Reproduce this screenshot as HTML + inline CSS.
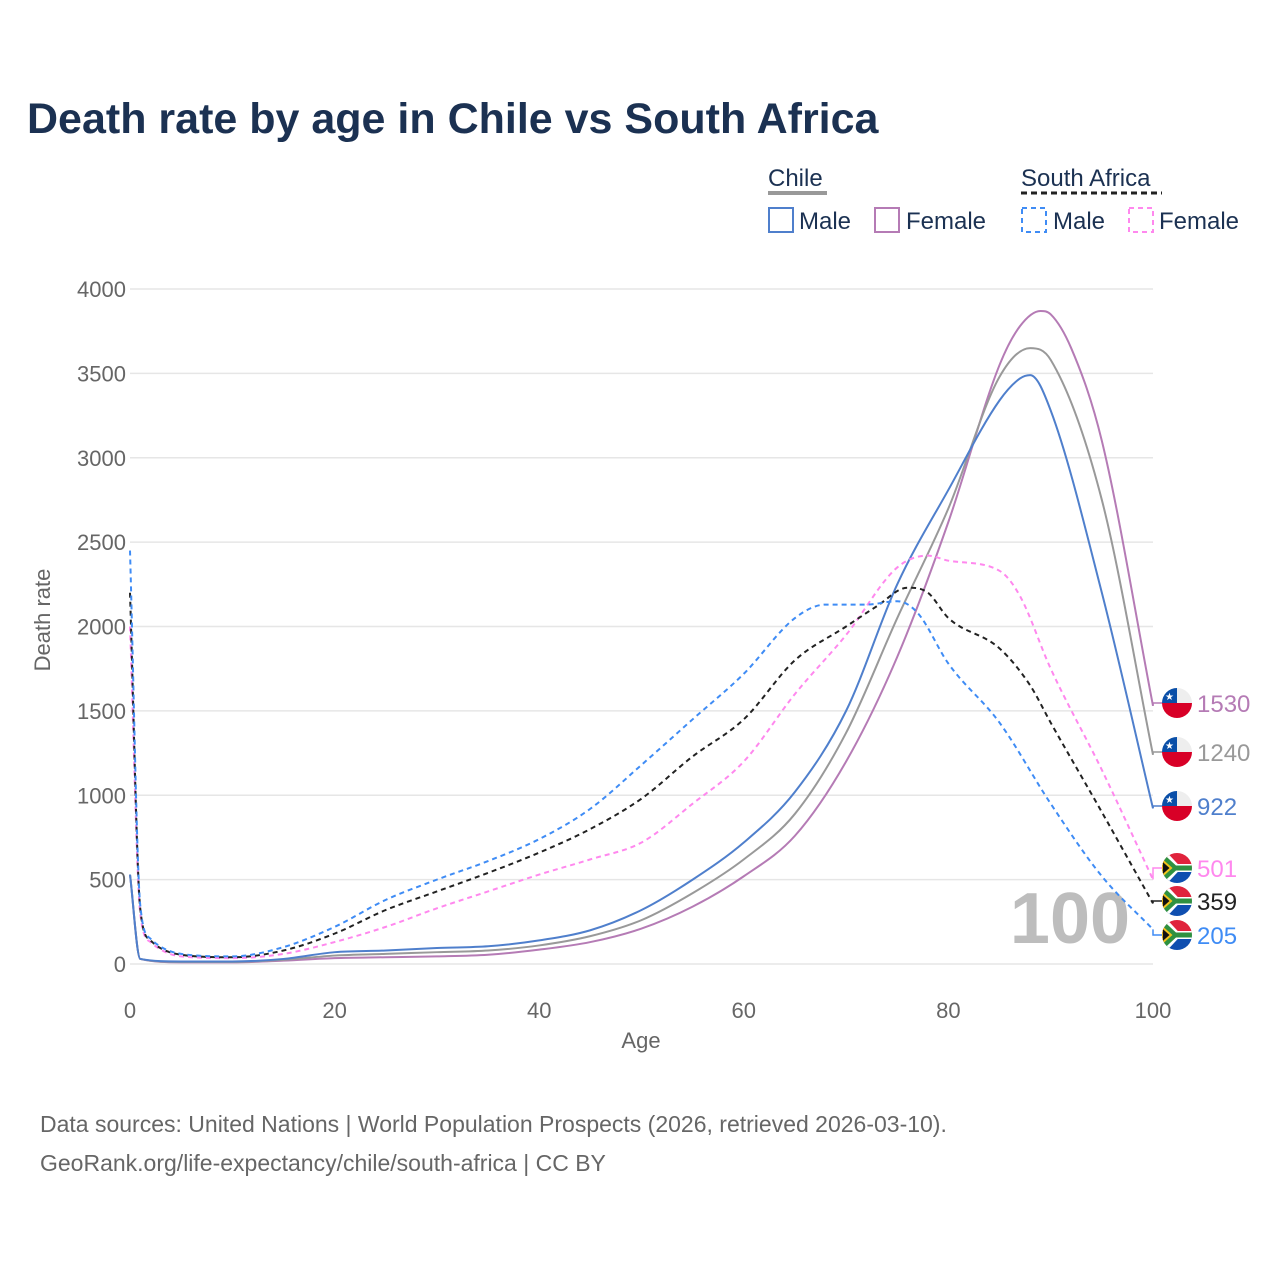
<!DOCTYPE html>
<html><head><meta charset="utf-8"><style>
body{margin:0;background:#fff;font-family:"Liberation Sans",sans-serif;}
svg text{font-family:"Liberation Sans",sans-serif;}
</style></head><body>
<svg id="c" width="1280" height="1280" viewBox="0 0 1280 1280" xmlns="http://www.w3.org/2000/svg">
<rect width="1280" height="1280" fill="#fff"/>
<text x="27" y="133" font-size="43" font-weight="bold" fill="#1b3152">Death rate by age in Chile vs South Africa</text>
<g>
 <text x="768" y="186" font-size="24" fill="#1b3152">Chile</text>
 <line x1="768" y1="193" x2="827" y2="193" stroke="#999" stroke-width="4"/>
 <rect x="769" y="208" width="24" height="24" fill="none" stroke="#4f7fcc" stroke-width="2"/>
 <text x="799" y="229" font-size="24" fill="#1b3152">Male</text>
 <rect x="875" y="208" width="24" height="24" fill="none" stroke="#b57bb5" stroke-width="2"/>
 <text x="906" y="229" font-size="24" fill="#1b3152">Female</text>
 <text x="1021" y="186" font-size="24" fill="#1b3152">South Africa</text>
 <line x1="1021" y1="193" x2="1162" y2="193" stroke="#222" stroke-width="3" stroke-dasharray="6,4"/>
 <rect x="1022" y="208" width="24" height="24" fill="none" stroke="#3f8cf5" stroke-width="2" stroke-dasharray="5,4"/>
 <text x="1053" y="229" font-size="24" fill="#1b3152">Male</text>
 <rect x="1129" y="208" width="24" height="24" fill="none" stroke="#ff88ee" stroke-width="2" stroke-dasharray="5,4"/>
 <text x="1159" y="229" font-size="24" fill="#1b3152">Female</text>
</g>
<g id="grid"></g>
<text x="1070" y="943" font-size="72" font-weight="bold" fill="#bdbdbd" text-anchor="middle">100</text>
<g id="lines"></g>
<g id="labels"></g>
<text x="641" y="1048" font-size="22" fill="#666" text-anchor="middle">Age</text>
<text transform="translate(50,620) rotate(-90)" font-size="22" fill="#666" text-anchor="middle">Death rate</text>
<text x="40" y="1132" font-size="23" fill="#666">Data sources: United Nations | World Population Prospects (2026, retrieved 2026-03-10).</text>
<text x="40" y="1171" font-size="23" fill="#666">GeoRank.org/life-expectancy/chile/south-africa | CC BY</text>
</svg>
<script>
const xTicks=[0,20,40,60,80,100];
const yTicks=[0,500,1000,1500,2000,2500,3000,3500,4000];
const chileMaleAges=[0,1,5,10,15,20,25,30,35,40,45,50,55,60,65,70,75,80,85,87,88,90,95,100];
const chileMaleVals=[530,30,15,15,30,70,80,95,105,140,200,320,500,720,1020,1500,2250,2810,3340,3470,3490,3280,2200,922];
const chileFemaleAges=[0,1,5,10,15,20,25,30,35,40,45,50,55,60,65,70,75,80,85,87,89,90,92,95,100];
const chileFemaleVals=[530,30,10,10,20,35,40,45,55,85,130,210,340,520,760,1200,1820,2620,3550,3780,3870,3850,3650,3100,1530];
const chileAllAges=[0,1,5,10,15,20,25,30,35,40,45,50,55,60,65,70,75,80,85,88,90,95,100];
const chileAllVals=[530,30,12,12,25,50,60,70,80,110,165,260,420,620,890,1370,2050,2700,3480,3650,3580,2750,1240];
const saMaleAges=[0,1,2,5,10,15,20,25,30,35,40,45,50,55,60,65,68,72,75,77,80,85,90,95,100];
const saMaleVals=[2450,350,150,60,45,100,220,380,500,610,740,920,1180,1450,1720,2050,2130,2130,2150,2080,1780,1430,950,520,205];
const saAllAges=[0,1,2,5,10,15,20,25,30,35,40,45,50,55,60,65,70,73,76,78,80,85,88,90,95,100];
const saAllVals=[2200,330,140,55,40,80,180,320,430,540,660,800,980,1230,1450,1800,2000,2120,2230,2200,2050,1870,1650,1430,900,359];
const saFemaleAges=[0,1,2,5,10,15,20,25,30,35,40,45,50,55,60,65,70,75,78,80,85,87,90,95,100];
const saFemaleVals=[2000,300,130,45,35,60,130,220,330,430,530,620,720,950,1200,1600,1950,2350,2420,2390,2330,2180,1750,1150,501];
const X=a=>130+a*10.23, Y=v=>964-v*0.16875;
const NS="http://www.w3.org/2000/svg";
const grid=document.getElementById('grid');
yTicks.forEach(t=>{
 const l=document.createElementNS(NS,'line');
 l.setAttribute('x1',130);l.setAttribute('x2',1153);l.setAttribute('y1',Y(t));l.setAttribute('y2',Y(t));
 l.setAttribute('stroke','#e6e6e6');l.setAttribute('stroke-width','1.5');
 
 
 grid.appendChild(l);
 const tx=document.createElementNS(NS,'text');
 tx.setAttribute('x',126);tx.setAttribute('y',Y(t)+8);tx.setAttribute('text-anchor','end');
 tx.setAttribute('font-size','22');tx.setAttribute('fill','#666');tx.textContent=t;
 
 
 grid.appendChild(tx);
});
xTicks.forEach(t=>{
 const tx=document.createElementNS(NS,'text');
 tx.setAttribute('x',X(t));tx.setAttribute('y',1018);tx.setAttribute('text-anchor','middle');
 tx.setAttribute('font-size','22');tx.setAttribute('fill','#666');tx.textContent=t;
 
 
 grid.appendChild(tx);
});
function path(ages,vals){
 const xs=ages.map(X), ys=vals.map(Y), n=xs.length;
 const d=[],m=new Array(n);
 for(let i=0;i<n-1;i++)d.push((ys[i+1]-ys[i])/(xs[i+1]-xs[i]));
 m[0]=d[0];m[n-1]=d[n-2];
 for(let i=1;i<n-1;i++){m[i]=(d[i-1]*d[i]<=0)?0:(d[i-1]+d[i])/2;}
 for(let i=0;i<n-1;i++){
  if(d[i]===0){m[i]=0;m[i+1]=0;continue;}
  const a=m[i]/d[i],b=m[i+1]/d[i],s=a*a+b*b;
  if(s>9){const t=3/Math.sqrt(s);m[i]=t*a*d[i];m[i+1]=t*b*d[i];}
 }
 let p='M'+xs[0]+','+ys[0];
 for(let i=0;i<n-1;i++){
  const h=(xs[i+1]-xs[i])/3;
  p+=' C'+(xs[i]+h)+','+(ys[i]+m[i]*h)+' '+(xs[i+1]-h)+','+(ys[i+1]-m[i+1]*h)+' '+xs[i+1]+','+ys[i+1];
 }
 return p;
}
const series=[
 ['chile-female-line',chileFemaleAges,chileFemaleVals,'#b57bb5',null,703,'1530'],
 ['chile-total-line',chileAllAges,chileAllVals,'#999999',null,752,'1240'],
 ['chile-male-line',chileMaleAges,chileMaleVals,'#4f7fcc',null,806,'922'],
 ['sa-female-line',saFemaleAges,saFemaleVals,'#ff88ee','5,4',868,'501'],
 ['sa-total-line',saAllAges,saAllVals,'#222222','5,4',901,'359'],
 ['sa-male-line',saMaleAges,saMaleVals,'#3f8cf5','5,4',935,'205']
];
const lines=document.getElementById('lines'),labels=document.getElementById('labels');
series.forEach(s=>{
 const e=document.createElementNS(NS,'path');
 e.setAttribute('d',path(s[1],s[2]));e.setAttribute('fill','none');e.setAttribute('stroke',s[3]);
 e.setAttribute('stroke-width','2');if(s[4])e.setAttribute('stroke-dasharray',s[4]);
 
 
 lines.appendChild(e);
 const endY=Y(s[2][s[2].length-1]);
 const c=document.createElementNS(NS,'path');
 c.setAttribute('d','M1153,'+endY+' L1153,'+s[5]+' L1163,'+s[5]);
 c.setAttribute('fill','none');c.setAttribute('stroke',s[3]);c.setAttribute('stroke-width','1.5');
 
 
 labels.appendChild(c);
 const g=document.createElementNS(NS,'g');
 
 
 const cx=1177,cy=s[5];
 if(s[4]){
  g.innerHTML=`<clipPath id="cp${cy}"><circle cx="${cx}" cy="${cy}" r="15"/></clipPath><g clip-path="url(#cp${cy})">
  <rect x="${cx-15}" y="${cy-15}" width="30" height="15" fill="#e0233c"/><rect x="${cx-15}" y="${cy}" width="30" height="15" fill="#0f4fb0"/>
  <path d="M${cx-15},${cy-15} L${cx-1},${cy} L${cx-15},${cy+15}" stroke="#fff" stroke-width="8" fill="none"/>
  <rect x="${cx-2}" y="${cy-4}" width="18" height="8" fill="#fff"/>
  <rect x="${cx-2}" y="${cy-2.5}" width="18" height="5" fill="#2f9140"/>
  <path d="M${cx-15},${cy-12} L${cx-2},${cy} L${cx-15},${cy+12}" stroke="#2f9140" stroke-width="5" fill="none"/>
  <path d="M${cx-15},${cy-8} L${cx-6},${cy} L${cx-15},${cy+8}Z" fill="#111" stroke="#f2c21b" stroke-width="2"/></g>`;
 }else{
  g.innerHTML=`<clipPath id="cp${cy}"><circle cx="${cx}" cy="${cy}" r="15"/></clipPath><g clip-path="url(#cp${cy})">
  <rect x="${cx-15}" y="${cy-15}" width="30" height="15" fill="#eee"/><rect x="${cx-15}" y="${cy}" width="30" height="15" fill="#d80027"/>
  <rect x="${cx-15}" y="${cy-15}" width="15" height="15" fill="#0a4fa8"/>
  <text x="${cx-7.5}" y="${cy-3}" font-size="10" fill="#fff" text-anchor="middle">★</text></g>`;
 }
 labels.appendChild(g);
 const t=document.createElementNS(NS,'text');
 t.setAttribute('x',1197);t.setAttribute('y',s[5]+9);t.setAttribute('font-size','24');
 t.setAttribute('fill',s[3]==='#222222'?'#222':s[3]);t.textContent=s[6];
 
 
 labels.appendChild(t);
});
</script>
</body></html>
